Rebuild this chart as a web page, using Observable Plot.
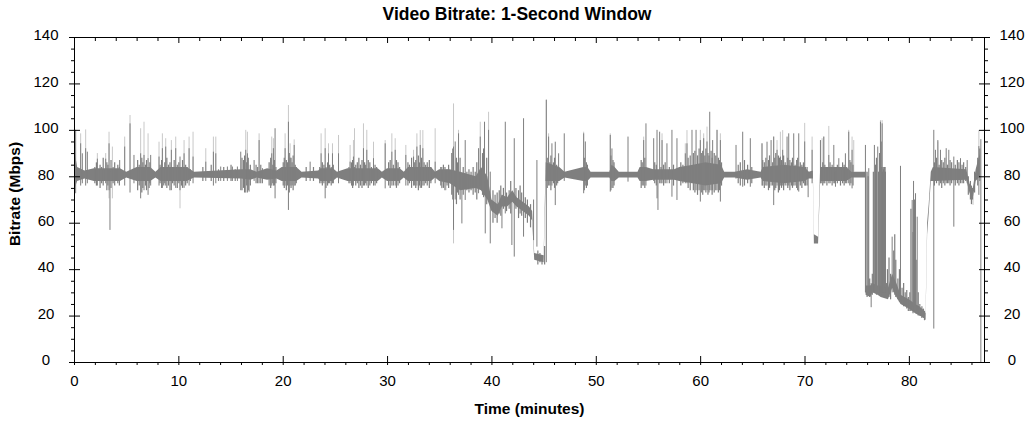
<!DOCTYPE html>
<html><head><meta charset="utf-8">
<script src="https://cdn.jsdelivr.net/npm/d3@7"></script>
<script src="https://cdn.jsdelivr.net/npm/@observablehq/plot@0.6"></script>
<style>body{margin:0;background:#fff;}</style>
</head><body><div id="chart"></div>
<script>
// ---- data (minutes, Mbps) ----
const title = "Video Bitrate: 1-Second Window";
const xLabel = "Time (minutes)";
const yLabel = "Bitrate (Mbps)";
const xMajor = [0,10,20,30,40,50,60,70,80];
const xMinor = [2,4,6,8,12,14,16,18,22,24,26,28,32,34,36,38,42,44,46,48,52,54,56,58,62,64,66,68,72,74,76,78,82,84,86];
const yMajor = [0,20,40,60,80,100,120,140];
const yMinor = [5,10,15,25,30,35,45,50,55,65,70,75,85,90,95,105,110,115,125,130,135];

// core level of the 1-second bitrate (dark envelope)
const bandT = [0,0.3,1.0,1.9,4.4,5.0,6.0,7.3,7.8,8.3,
 10.8,11.5,16.0,16.9,17.5,18.5,19.4,19.9,21.3,21.8,
 23.4,23.6,24.8,25.2,26.2,29.1,29.5,30.0,31.2,31.6,
 32.0,34.2,34.6,35.0,36.0,37.0,38.5,39.0,39.6,40.0,
 40.6,41.0,41.5,42.0,42.4,43.0,43.6,43.9,44.1,45.0,
 45.2,46.5,47.0,48.8,49.2,49.5,51.3,51.5,51.8,52.2,
 54.0,54.2,54.8,55.5,57.5,58.0,59.3,60.5,62.0,62.3,
 63.3,64.5,65.8,66.0,68.0,70.0,70.4,70.8,70.9,71.3,
 71.5,74.0,74.5,75.8,75.85,76.3,76.5,77.0,77.3,78.0,
 78.4,78.8,79.2,80.0,80.6,81.0,81.5,81.6,81.75,81.9,
 82.1,82.3,85.5,85.8,86.1,86.4,86.8];
const bandLo = [74,78,79,78,78,79.5,78,78,79.5,78,
 78,79.5,79,78.5,79.5,78.5,79,78,78,79.5,
 79,78,78,79.5,78,78,79.5,78,78,79.5,
 78,78,79.5,78,77,74,75,74,70,65,
 63,67,67,69,67,65,63,61,44,43,
 78,78,79.5,78,78,79.5,79.5,78,78,79.5,
 79.5,78,78,78.5,78.5,78,77,76,77,79.5,
 79.5,78.5,79.5,78,77,78,79,79,51,51,
 78,78,79.5,79.5,29,28,30,29,28,27,
 32,28,25,23,21,20,19,18,55,64,
 78,78,78.5,73,70,78,80];
const bandHi = [92,84,82.5,83.5,83.5,82,84,84,82,84,
 84,82,83,83,82,83.5,82.5,84,84,82,
 82.5,83.5,83.5,82,83.5,83.5,82,83.5,83.5,82,
 84,84,82,83,83,82,80,84,80,70,
 68,72,71,74,71,69,67,65,47,46,
 86,84,82,84,84,82,82,85,84,82,
 82,84,84,83,83,84,85,86,85,82,
 82,83,82,84,85,84,82,82.5,55,54,
 84,84,82,82,33,33,34,33,33,32,
 38,34,29,27,25,24,22,21,60,68,
 82,84,83,77,74,83,90];

// second-to-second fluctuation inside busy passages (dark), one line per passage
const jitT = [
 1.95,2.1,2.3,2.45,2.6,2.75,2.9,3.1,3.2,3.5,3.7,3.85,4.0,4.15,4.3,
 6.05,6.2,6.45,6.55,6.8,6.9,7.15,7.22,
 8.2,8.35,8.55,8.65,8.85,9.0,9.15,9.4,9.55,9.85,10.0,10.25,10.35,10.65,10.8,11.1,
 12.3,13.1,13.8,14.3,15.0,15.4,
 16.05,16.2,16.3,16.5,16.65,16.85,
 17.4,17.55,17.85,
 18.65,18.8,19.0,19.15,19.3,
 20.0,20.1,20.3,20.4,20.58,20.75,20.85,20.95,21.15,21.25,
 22.2,22.9,
 23.5,23.75,23.9,24.1,24.25,24.45,24.6,24.8,
 26.3,26.55,26.65,26.95,27.1,27.25,27.4,27.55,27.8,27.9,28.15,28.3,28.45,28.8,28.95,
 30.1,30.25,30.55,30.85,31.0,31.15,
 31.95,32.1,32.3,32.6,32.7,32.95,33.05,33.25,33.5,33.65,33.8,34.0,34.15,
 35.1,35.35,35.5,35.7,35.85,
 36.15,36.25,36.6,36.7,36.95,37.25,37.6,37.8,38.0,38.2,38.4,38.55,39.1,39.2,39.5,
 40.1,40.3,40.5,40.7,40.85,41.1,41.4,41.65,41.8,42.3,42.55,42.7,42.85,43.2,43.4,43.7,
 44.4,44.6,44.8,45.05,
 45.3,45.55,45.65,45.9,46.0,46.2,46.3,
 48.85,49.05,49.15,
 51.4,51.6,51.7,
 54.3,54.4,54.65,
 55.6,55.75,56.2,56.45,56.6,57.0,57.4,
 58.1,58.3,58.8,59.0,59.3,59.45,59.7,59.85,60.1,60.2,60.4,60.5,60.7,60.8,61.0,61.1,61.3,61.45,61.7,61.8,62.0,
 63.6,63.8,64.2,64.5,64.9,
 65.95,66.1,66.25,66.5,66.6,66.9,67.1,67.2,67.45,67.55,67.75,67.95,68.1,68.35,68.55,68.7,68.8,69.05,69.2,69.3,69.55,69.7,69.85,70.05,70.2,
 71.55,71.7,71.9,72.1,72.4,72.6,72.85,73.1,73.4,73.6,73.75,74.0,74.3,74.4,74.6,
 75.82,75.95,76.05,76.2,76.45,76.55,76.75,76.85,77.05,77.15,77.3,77.35,77.43,77.51,77.59,77.67,77.8,77.9,78.05,78.2,78.5,78.6,78.7,78.9,79.05,79.3,79.45,79.6,79.75,79.9,80.05,80.15,80.35,80.5,80.65,80.85,81.0,81.2,81.35,81.45,
 82.4,82.6,82.85,83.1,83.25,83.4,83.65,83.9,84.05,84.4,84.6,84.75,85.05,85.2,85.4,
 85.65,85.85,85.95,86.05,86.25,86.55,86.75];
const jitLo = [
 77,76,78,75,77,76,78,74,76,75,77,76,78,77,76,
 74,76,73,75,76,74,75,77,
 77,75,76,77,75,76,74,77,76,75,77,76,75,76,77,78,
 78,78,78,78,78,78,
 74,75,73,76,74,76,
 77,77,77,
 76,75,77,76,77,
 76,75,74,76,73,75,76,74,76,77,
 78,78,
 77,76,77,75,76,77,76,77,
 77,76,75,76,77,75,76,75,76,77,75,76,77,76,77,
 76,75,76,75,76,77,
 76,77,75,76,75,74,76,75,76,77,76,75,77,
 76,75,74,76,75,
 72,70,68,73,70,72,74,73,74,72,73,70,72,71,68,
 60,62,60,64,63,66,65,66,64,66,62,64,63,62,60,58,
 42,43,42,42,
 75,76,74,77,75,76,77,
 74,75,76,
 74,75,76,
 75,76,75,
 77,76,77,76,77,77,76,
 76,77,75,74,74,73,72,74,73,72,74,73,72,73,74,72,73,74,73,74,76,
 77,76,76,77,77,
 76,75,76,74,75,76,74,75,73,74,75,74,76,75,74,76,75,76,75,74,76,75,77,76,76,
 77,76,77,76,77,76,77,77,76,77,76,77,76,77,76,
 30,28,30,28,29,30,31,29,30,29,30,30,29,31,30,30,28,29,28,27,30,29,28,27,26,25,24,24,23,22,22,22,21,22,21,20,20,19,19,18,
 76,77,76,75,77,76,77,76,77,76,77,76,77,77,78,
 72,70,68,70,73,76,78];
const jitHi = [
 84,86,83,85,84,88,83,86,85,87,84,86,83,85,84,
 87,85,88,86,85,87,84,86,
 85,87,84,86,88,85,86,84,87,85,86,84,87,85,84,83,
 84,85,83,84,85,83,
 88,87,89,86,88,85,
 85,84,85,
 86,88,85,87,84,
 86,88,87,86,90,88,86,89,85,84,
 84,84,
 84,86,85,84,86,85,84,85,
 84,86,87,85,86,88,85,87,86,85,87,86,84,85,84,
 86,87,85,87,86,84,
 86,85,88,86,87,89,86,88,86,85,86,87,84,
 84,85,84,83,85,
 90,92,88,86,88,84,82,83,82,84,82,86,90,92,88,
 74,72,73,74,76,75,73,74,78,75,74,76,73,71,70,68,
 48,47,46,50,
 88,86,89,86,88,85,84,
 88,86,85,
 89,87,86,
 87,86,88,
 86,85,84,85,86,84,85,
 86,85,88,89,90,91,89,92,90,91,89,92,90,89,91,88,90,89,88,87,86,
 85,86,87,85,84,
 87,86,88,87,89,86,88,90,89,88,87,89,86,88,87,86,88,85,87,88,86,85,86,84,84,
 84,86,85,84,86,85,84,85,84,86,85,84,87,86,85,
 82,82,80,36,38,82,85,88,82,90,95,84,82,83,82,84,34,40,45,38,48,55,44,36,40,32,34,30,31,28,30,66,56,70,44,30,25,24,23,22,
 86,88,85,87,86,88,85,87,86,85,87,86,85,86,84,
 80,78,76,75,82,88,92];

// tallest / deepest single-second excursions (dark)
const spikeT = [0.11,0.59,0.75,1.07,1.23,2.19,2.99,3.31,3.40,4.33,
 4.81,5.32,5.70,6.34,6.66,7.05,7.30,8.10,8.42,8.74,
 9.28,9.70,10.11,10.50,10.98,11.36,12.58,13.31,13.54,14.01,
 14.65,15.13,15.61,15.93,16.41,16.57,16.73,17.21,17.69,18.01,
 18.90,19.06,19.22,20.18,20.50,20.66,21.05,22.58,23.63,24.02,
 24.34,24.72,25.30,26.41,26.73,26.83,27.69,28.01,28.65,29.77,
 30.41,30.73,31.75,32.49,32.81,33.13,33.38,34.56,35.20,36.32,
 36.48,36.80,37.12,37.44,38.72,38.88,39.29,39.36,39.68,39.84,
 40.96,41.28,41.91,42.14,43.03,43.99,44.31,45.21,45.43,45.75,
 46.07,46.39,46.93,48.79,48.95,51.34,51.50,53.04,54.54,54.76,
 55.50,55.82,55.91,56.07,56.30,56.77,57.25,57.73,58.53,58.69,
 59.17,59.56,59.97,60.29,60.61,60.87,61.15,61.57,61.89,63.39,
 64.03,64.76,65.88,66.36,66.75,67.00,67.32,67.64,67.86,68.28,
 68.44,68.92,69.40,69.97,70.30,70.68,71.48,71.80,72.28,72.76,
 72.92,73.24,73.87,74.19,74.51,75.79,76.11,76.34,76.65,76.97,
 77.23,77.39,77.47,77.55,77.63,77.71,78.35,79.15,80.27,80.40,
 80.59,80.75,82.34,82.50,82.73,82.98,83.53,83.78,84.26,84.90,
 85.54,86.66,86.85];
const spikeLo = [72.7,76,77,76,77,76,77,74,56.9,78,
 76,73,77,70.5,74,72,76,76,75,76,
 74,75,74,75,76,77,78,76,77,78,
 78,78,78,74,73,73,73.4,78,77,77,
 76,76,70.5,76,65.5,76,76,78,77,70.5,
 77,77,77,77,76,78,76,76,76,74.8,
 76,76,76,76,76,75,76,77,75,56.9,
 70,72,59.7,69.8,72.7,76,76,55.4,70,51.1,
 57.6,64,50.4,45.4,54,52.5,49.7,43,76,76,
 67.6,78,78,72.7,76,73.4,75,77.7,76,76,
 78,70.5,65.5,77,77,77,71.2,69.8,77,77,
 77,74,69.1,74,74,74,74,74,69.1,79,
 75.5,75.5,76,76,76,67.6,76,76,76,76,
 76,76,73.4,76,71,77,77,77,77,77,
 75.5,78,77,77,74.8,30,30,23.6,30,30,
 30,30,30,30,30,32,30,26,23.6,24,
 22,22,14.4,78,78,77,77,77,58.3,77,
 77,72,0];
const spikeHi = [100,94.2,89.9,92.1,90.6,87.6,87.6,94.2,82,87,
 92.8,102.8,89.2,89.9,89.2,87.8,89.2,88.5,92.1,92.8,
 91.4,92.1,88.5,89.9,92.1,88.5,86.3,90.6,89.9,84.2,
 84.2,84.2,84.2,90.6,91.4,89.9,82,87,95.6,83.5,
 89.9,92.1,100.7,92.1,103.5,88,93.5,86.3,89.9,92.1,
 89.9,89.9,89.9,86.3,88.5,84,92.1,91.4,87.8,94.2,
 90.6,91.4,89.2,88.5,92.8,93.5,92.1,86.3,84,92.8,
 95,98.5,80,95.6,92.1,97.1,103.5,78,100,82,
 72,103.5,70,96.4,105,70,87,112.9,97.1,94.2,
 94.9,89.9,98.5,98.5,95,97.8,92,97.1,95.6,102.8,
 96.4,100,80,99.2,95.6,94.2,100,96.4,89.9,94.2,
 100,100,95.6,96.4,95,107.8,95.6,100,95.6,93.5,
 99.2,96.4,94.2,94.9,95.6,97.1,91.4,88.5,91.4,97.1,
 98.5,98.5,98.5,95,82,91.4,95.6,97.1,89.2,93.5,
 82,87.8,89.9,99.2,91.4,93.5,83.5,34,93.5,92.8,
 103.5,102.8,84,84,84,82,54,84.5,69.8,78,
 72.7,62.6,100,91.4,95.6,91.4,92.1,91.4,88.5,87.8,
 87,93,96];

// light-grey peak excursions
const peakT = [0.59,1.07,2.19,2.99,3.31,3.63,4.81,5.32,6.34,6.66,
 7.05,8.10,8.42,8.74,9.28,9.70,10.11,10.50,10.98,11.36,
 12.58,13.31,13.54,16.41,16.57,17.69,18.90,19.06,20.18,20.50,
 20.66,21.05,23.63,24.02,24.34,24.72,25.30,26.41,26.73,26.83,
 27.69,28.01,28.65,29.77,30.41,30.73,31.75,32.49,32.81,33.13,
 33.38,34.56,35.20,35.60,36.32,36.80,38.88,39.68,45.21,45.43,
 48.79,51.34,54.54,56.30,58.53,58.69,59.97,60.29,60.61,61.57,
 61.89,65.88,67.00,67.32,67.64,67.86,69.97,70.68,71.64,71.80,
 72.28,74.19,74.51,74.67,77.23,77.39,82.73,86.10,86.66];
const peakLo = [82,82,82,82,70.5,70.5,82,82,82,82,
 82,82,82,82,82,82,66.2,82,82,82,
 82,82,82,82,82,82,82,82,82,82,
 82,82,82,82,82,82,82,82,82,82,
 82,82,82,82,82,82,82,82,82,82,
 82,82,74.8,74,51.1,82,82,82,82,82,
 82,82,82,82,82,82,82,82,82,82,
 82,82,82,82,82,82,82,82,82,82,
 82,82,82,82,82,82,82,67.7,82];
const peakHi = [98.5,100.2,90,90,99.2,92.8,97.1,106.4,100.7,103.5,
 98.5,94.9,98.5,96.4,95.6,97.1,78,95.6,97.1,99.2,
 92.1,97.1,97.1,100,99.2,98.5,97.1,96.4,98.5,110.7,
 94.2,95.9,98.5,100.7,94.2,94.2,97.8,93.5,95.6,100.7,
 102.8,100,94.9,95.6,98.5,96.4,93.5,91.4,98.5,99.9,
 99.9,100.7,78,78,111.4,100,103.5,107.8,113.2,98.5,
 99.2,98.5,97.1,98.5,94.2,99.9,100,98.5,101.4,100,
 98.5,94.2,97.1,95.6,99.2,99.9,103,97.1,96.4,97.1,
 101.7,100,97.1,95.6,104.2,104.2,95,74,99.9];

function table(T, A, B, name) {
  if (T.length !== A.length || T.length !== B.length) throw new Error(name + " length mismatch " + T.length + "/" + A.length + "/" + B.length);
  return T.map((t, i) => ({t, lo: A[i], hi: B[i]}));
}
const band = table(bandT, bandLo, bandHi, "band");
const jitter = table(jitT, jitLo, jitHi, "jitter");
const spikes = table(spikeT, spikeLo, spikeHi, "spikes");
const peaks = table(peakT, peakLo, peakHi, "peaks");

const DARK = "#7f7f7f", LIGHT = "#c8c8c8";
const FONT = "'Liberation Sans', Arial, sans-serif";

const chart = Plot.plot({
  width: 1036, height: 422,
  marginLeft: 74, marginRight: 52, marginTop: 37, marginBottom: 60,
  x: {domain: [0, 87.2]},
  y: {domain: [0, 140]},
  style: {fontFamily: FONT, fontSize: "15px", color: "#000", background: "#fff", overflow: "visible"},
  marks: [
    Plot.ruleX(peaks, {x: "t", y1: "lo", y2: "hi", stroke: LIGHT, strokeWidth: 1}),
    Plot.areaY(band, {x: "t", y1: "lo", y2: "hi", fill: DARK}),
    Plot.ruleX(jitter, {x: "t", y1: "lo", y2: "hi", stroke: DARK, strokeWidth: 1.2}),
    Plot.ruleX(spikes, {x: "t", y1: "lo", y2: "hi", stroke: DARK, strokeWidth: 1}),
    Plot.frame({stroke: "#000"}),
    // bottom ticks
    Plot.axisX({anchor: "bottom", ticks: xMajor, tickSize: 9, dy: -6, fill: "none", label: null}),
    Plot.axisX({anchor: "bottom", ticks: xMinor, tickSize: 3, fill: "none", label: null}),
    Plot.axisX({anchor: "bottom", ticks: xMajor, tickSize: 0, tickPadding: 13, label: null, fontSize: 15}),
    // top ticks (inward)
    Plot.axisX({anchor: "top", ticks: xMajor, tickSize: 5, dy: 5, fill: "none", label: null}),
    Plot.axisX({anchor: "top", ticks: xMinor, tickSize: 3, dy: 3, fill: "none", label: null}),
    // left
    Plot.axisY({anchor: "left", ticks: yMajor, tickSize: 11, dx: 6, fill: "none", label: null}),
    Plot.axisY({anchor: "left", ticks: yMinor, tickSize: 3, fill: "none", label: null}),
    Plot.axisY({anchor: "left", ticks: yMajor, tickSize: 0, tickPadding: 28.5, textAnchor: "middle", dy: -2, label: null, fontSize: 15}),
    // right
    Plot.axisY({anchor: "right", ticks: yMajor, tickSize: 11, dx: -6, fill: "none", label: null}),
    Plot.axisY({anchor: "right", ticks: yMinor, tickSize: 3, fill: "none", label: null}),
    Plot.axisY({anchor: "right", ticks: yMajor, tickSize: 0, tickPadding: 27.5, textAnchor: "middle", dy: -2, label: null, fontSize: 15}),
    // titles
    Plot.text([title], {frameAnchor: "top", dx: -12.5, dy: -23, fontWeight: "bold", fontSize: 17.5, textAnchor: "middle", lineAnchor: "middle"}),
    Plot.text([xLabel], {frameAnchor: "bottom", dy: 47, fontWeight: "bold", fontSize: 15.5, textAnchor: "middle", lineAnchor: "middle"}),
    Plot.text([yLabel], {frameAnchor: "left", dx: -59.5, dy: -6, rotate: -90, fontWeight: "bold", fontSize: 15.5, textAnchor: "middle", lineAnchor: "middle"})
  ]
});
document.getElementById("chart").appendChild(chart);
</script>
</body></html>
